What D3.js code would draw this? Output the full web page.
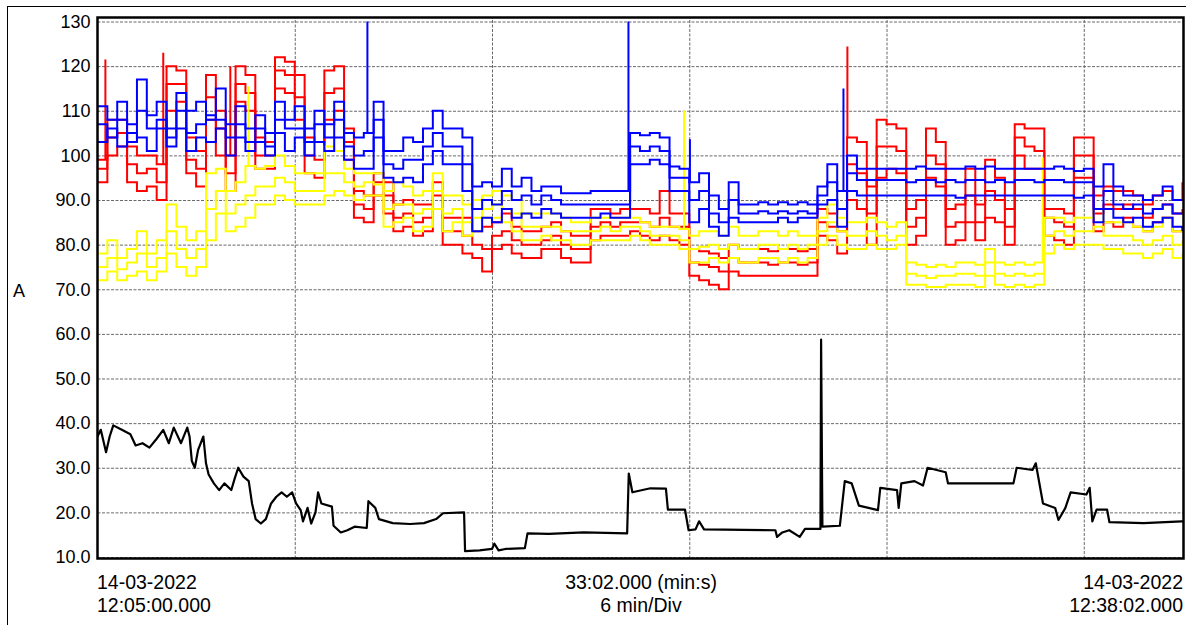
<!DOCTYPE html>
<html><head><meta charset="utf-8">
<script src="https://cdn.jsdelivr.net/npm/d3@7/dist/d3.min.js"></script>
<style>
body{margin:0;background:#fff}
svg{display:block}
text{font-family:"Liberation Sans",Arial,sans-serif;fill:#000}
</style>
</head><body>
<svg id="c" width="1186" height="625"></svg>
<script>
// ---- data (A), sampled every 0.3 min from 12:05:00.000 ----
const STEP_MIN = 0.3;
const TOTAL_MIN = 33 + 2/60;
const yTicks = [10,20,30,40,50,60,70,80,90,100,110,120,130];
const yTickLabels = ["10.0","20.0","30.0","40.0","50.0","60.0","70.0","80.0","90.0","100","110","120","130"];
const xGridMin = [6,12,18,24,30];
const yUnit = "A";
const leftLabel = ["14-03-2022","12:05:00.000"];
const centerLabel = ["33:02.000 (min:s)","6 min/Div"];
const rightLabel = ["14-03-2022","12:38:02.000"];

const redMin = [94,100,102,94,92,93,90,110,112,96,93,
108,100,92,112,110,97,97,115,114,108,
96,95,108,110,99,86,85,91,87,83,
84,82,83,88,80,80,78,77,74,79,
80,78,77,77,79,79,77,76,76,81,
82,82,82,83,82,81,82,81,80,73,
72,71,70,74,73,73,73,73,73,73,
73,73,82,81,78,90,88,80,95,97,
96,80,82,95,93,80,81,85,81,86,
85,80,100,97,97,82,81,80,95,95,
83,85,84,86,84,83,85,86,83,84];
const redAvg = [97,104,105,98,96,97,94,116,116,99,97,
113,106,96,116,114,100,100,119,118,113,
100,99,114,115,103,89,88,94,91,86,
87,85,86,91,83,83,82,80,79,82,
83,81,80,80,81,82,80,79,79,84,
85,84,85,85,85,84,86,84,84,76,
75.5,75,74,77,76,76,76,75.5,76,76,
75.5,76,85,84,83,98,96,87,102,102,
101,84,86,100,98,84,85,91,85,92,
90,84,104,102,101,86,85,84,100,100,
87,89,88,89,88,86,88,89,87,88];
const redMax = [99,108,108,102,100,100,98,120,119,104,101,
118,110,100,120,118,104,103,122,121,118,
104,103,119,120,106,92,91,96,94,89,
90,89,89,94,86,86,86,83,84,85,
87,84,83,83,84,85,83,82,82,88,
88,87,88,88,88,87,92,87,87,79,
78.5,78,77,80,79,79,79,78.5,79,79,
78.5,79,88,87,88,104,103,93,108,107,
106,88,90,106,103,88,89,97,89,99,
95,88,107,106,106,88,88,87,104,104,
91,93,92,92,91,89,91,92,90,94];

const yellowMin = [72,74,72,73,74,72,74,78,75,73,75,
81,87,83,84,86,89,89,91,90,89,
89,89,91,92,91,90,91,91,84,85,
86,83,84,88,83,85,82,83,86,86,
85,83,81,81,82,81,81,80,80,81,
81,81,81,82,81,80,80,80,79,76,
76,77,76,77,76,76,77,77,76,77,
76,77,80,82,80,79,79,80,79,79,
80,71,71,70.5,70.5,71,71,71,70.5,73,
71,70.5,71,70.5,71,78,80,79,80,80,
80,79,79,78,78,77,78,79,77,78];
const yellowAvg = [75,77,74.5,76,78,75,77,83,79,77,79,
88,92,87,89,91,93,93,95,94,92,
92,92,96,96,94,93,94,93.5,88,89,
89,87,88,92,87,88,85,86,88,89,
88,87,84,84,84,84,83,83,83,83,
84,83,84,84,83,82,82,82,81,79,
79.5,80,79,80,79,79,80,80,79,80,
79,80,83,85,83,82,82,83,82,81,
82,73.5,73,72.5,73,73,73.5,73.5,73,76,
73.5,73,73.5,73,73.5,82,83,82,83,83,
84,82,82,82,81,80,81,82,80,81];
const yellowMax = [78,81,77,79,83,78,81,89,84,81,83,
96,97,92,94,97.6,97,97.6,100,97.6,96,
96,96,102,101,97,96,96,96,92,94,
93,91,92,96,91,91,89,90,91,92,
91,90,87,87,87,87,86,85,85,86,
86,86,86,86,85,84,84,84,83.5,82,
83,83,82,84,82,82,83,83,82,83,
82,82,86,89,86,85,85,86,85,84,
85,76,75.5,75,75.5,75,76,76,75.5,79,
76,75.5,76,75.5,76,86,86,85,86,86,
88,85,85,85,84,83,84,86,83,84];

const blueMin = [103,106,102,105,104,101,106,102,106,101,104,
103,106,100,104,101,103,100,105,101,104,
100,103,101,104,99,97,97,104,95,94,
95,94,98,101,98,98,92,83,86,85,
88,86,87,86,88,87,86,86,86,86,
87,86,86,98,98,99,98,92,92,85,
88,84,82,86,85,85,85,85,86,85,
86,86,89,90,84,92,91,91,91,91,
91,91,91,91,91,91,90.5,91,91,91,
91,91,91,91,91,91,91,91,90.5,91,
85,88,86,85,86,84,85,86,84,83];
const blueAvg = [107,104,108,103,110,106,108,104,110,105,107,
109,108,104,107,103,106,102,108,106,106,
103,107,104,108,102,100,101,108,98,97,
99,99,102,105,102,102,98,88,90,89,
92,90,91,89,91,90,89,89,89,89,
89,89,89,102,101,102,101,95,95,90,
92,87,85,90,87,87,87.5,87,87.5,87,
87.5,87,91,94,88,96,94.5,94.5,94.5,94.5,
94.5,94,94.5,94.5,94,94.5,94,94.5,94.5,94,
94.5,94,94.5,94.5,94,94.5,94.5,94,94,94,
88,92,89,88,89,87,88,89,87,87];
const blueMax = [111,108,112,107,117,109,112,106,114,110,112,
108,115,107,111,106,109,105,112,108,111,
106,110,107,112,105,104,105,112,101,101,
104,103,106,110,106,106,104,93,94,93,
97,93,95,92,93,93,91.5,91.5,91.5,92,
92,92,92,105,104.5,105,104,97.5,97,94,
96,91,88,94,89,89,89.5,89,89.5,89,
89.5,89,93,98,92,100,97,97,97,97,
97,97,97.5,97,97,97,97,97.5,97,97.5,
97,97,97,97,97,97,97.5,97,96.5,97,
93,98,93,91,91,90,91,93,90,90];

// short peaks (time in min, peak value)
const redSpikeT = [0.24, 2.0, 4.04, 22.81];
const redSpikeV = [121.5, 123, 120, 124.4];
const yellowSpikeT = [4.59, 17.84, 28.75];
const yellowSpikeV = [115.5, 110, 99.5];
const blueSpikeT = [8.21, 16.15, 18.02, 22.69];
const blueSpikeV = [130, 130, 103.6, 115];

// neutral current, breakpoints (min, A)
const blackT = [0,0.1,0.26,0.37,0.48,0.74,1.0,1.16,1.37,1.58,1.8,2.0,2.17,2.32,2.54,2.73,2.8,2.87,2.96,3.06,3.22,3.3,3.38,3.54,3.7,3.86,4.07,4.17,4.28,4.44,4.6,4.7,4.81,4.97,5.12,5.28,5.44,5.6,5.76,5.92,6.04,6.18,6.25,6.39,6.5,6.63,6.71,6.81,7.13,7.18,7.4,7.6,7.82,8.19,8.24,8.45,8.56,8.98,9.51,9.93,10.3,10.51,11.15,11.18,11.62,12.0,12.07,12.2,12.41,13.0,13.08,13.73,14.79,16.11,16.16,16.27,16.82,17.29,17.35,17.87,17.98,18.19,18.3,18.45,20.62,20.67,20.83,21.04,21.36,21.52,21.99,22.01,22.05,22.58,22.73,22.94,23.16,23.74,23.81,24.32,24.37,24.45,24.85,25.11,25.25,25.8,25.87,27.86,27.96,28.44,28.54,28.76,29.13,29.23,29.44,29.6,30.08,30.18,30.26,30.39,30.71,30.78,31.82,32.98,33.03];
const blackV = [37,38.5,33.5,37,39.5,38.5,37.5,35,35.5,34.5,36.5,38.5,35.5,39,35.5,39,37,31.5,30,34,37,31,28.5,26.5,25,26.5,25,27.5,30,28,27,22,18.5,17.5,18.5,22,23.5,24.5,23.5,24.5,22,20.5,18,21,17.5,20,24.5,22,21.3,17,15.5,16,16.8,16.5,22.5,21,18.5,17.6,17.4,17.6,18.5,19.8,20,11.3,11.5,11.8,13,11.5,11.8,12,15.3,15.2,15.5,15.3,28.7,24.5,25.4,25.3,20.6,20.6,16,16.2,18,16.2,16,14.5,15.5,16,14.5,16.3,16.3,58.7,16.8,17,27,26.5,21.5,20.5,25.5,25,21,26.5,27,26,30,29,26.5,26.5,30,29.5,31,22,21,18.3,21,24.5,24,25.5,18,20.6,20.6,17.8,17.6,18,18];

// ---- drawing ----
const svg = d3.select("#c");
const L = 97.5, R = 1183.5, T = 17.5, B = 558.5;
const x = d3.scaleLinear().domain([0, TOTAL_MIN]).range([L, R]);
const y = d3.scaleLinear().domain([10, 130]).range([557, 21.5]);
const times = redAvg.map((_, i) => i * STEP_MIN);

// outer frame
svg.append("rect").attr("x",7.5).attr("y",6.5).attr("width",1200).attr("height",700)
  .attr("fill","none").attr("stroke","#000").attr("stroke-width",1);

// horizontal grid + labels
const gy = svg.append("g").attr("transform",`translate(${L},0)`)
  .call(d3.axisLeft(y).tickValues(yTicks).tickSize(-(R-L)).tickPadding(7)
    .tickFormat((d,i)=>yTickLabels[i]));
gy.select(".domain").remove();
gy.selectAll("line").attr("stroke","#6a6a6a").attr("stroke-dasharray","3,1.5").attr("stroke-width",1);
gy.selectAll("text").attr("font-size",18).attr("font-family","Liberation Sans, Arial, sans-serif").attr("fill","#000");

// vertical grid
const gx = svg.append("g").attr("transform",`translate(0,${B})`)
  .call(d3.axisBottom(x).tickValues(xGridMin).tickSize(-(B-T)).tickFormat(""));
gx.select(".domain").remove();
gx.selectAll("line").attr("stroke","#6a6a6a").attr("stroke-dasharray","3,1.5").attr("stroke-width",1);

// clip
svg.append("clipPath").attr("id","clip").append("rect")
  .attr("x",L).attr("y",T).attr("width",R-L).attr("height",B-T);
const g = svg.append("g").attr("clip-path","url(#clip)");

const line = d3.line().curve(d3.curveStepAfter).x((d,i)=>x(times[i])).y(d=>y(d));
function interp(arr, t){
  const i0 = Math.min(Math.floor(t / STEP_MIN), arr.length-1);
  return arr[i0];
}
const groups = [
  {color:"#ff0000", series:[redMin, redAvg, redMax], st:redSpikeT, sv:redSpikeV},
  {color:"#ffff00", series:[yellowMin, yellowAvg, yellowMax], st:yellowSpikeT, sv:yellowSpikeV},
  {color:"#0000ff", series:[blueMin, blueAvg, blueMax], st:blueSpikeT, sv:blueSpikeV}
];
groups.forEach(gr => {
  gr.series.forEach(s => {
    g.append("path").attr("d", line(s)).attr("fill","none")
      .attr("stroke", gr.color).attr("stroke-width", 2).attr("stroke-linejoin","miter");
  });
  gr.st.forEach((t, k) => {
    const base = interp(gr.series[2], t);
    g.append("path").attr("d", `M${x(t)},${y(base)}L${x(t)},${y(gr.sv[k])}`)
      .attr("stroke", gr.color).attr("stroke-width", 2).attr("fill","none");
  });
});

const blackLine = d3.line().x((d,i)=>x(blackT[i])).y(d=>y(d));
g.append("path").attr("d", blackLine(blackV)).attr("fill","none")
  .attr("stroke","#000").attr("stroke-width",2.2).attr("stroke-linejoin","round");

// plot frame
svg.append("rect").attr("x",L).attr("y",T).attr("width",R-L).attr("height",B-T)
  .attr("fill","none").attr("stroke","#000").attr("stroke-width",2.5);

// unit label
svg.append("text").attr("x",13).attr("y",297).attr("font-size",18).text(yUnit);

// bottom labels
const fs = 19.5;
leftLabel.forEach((s,i)=> svg.append("text").attr("x",L-0.5).attr("y",589+i*23).attr("font-size",fs).text(s));
centerLabel.forEach((s,i)=> svg.append("text").attr("x",641).attr("y",589+i*23).attr("font-size",fs).attr("text-anchor","middle").text(s));
rightLabel.forEach((s,i)=> svg.append("text").attr("x",1183).attr("y",589+i*23).attr("font-size",fs).attr("text-anchor","end").text(s));
</script>
</body></html>
